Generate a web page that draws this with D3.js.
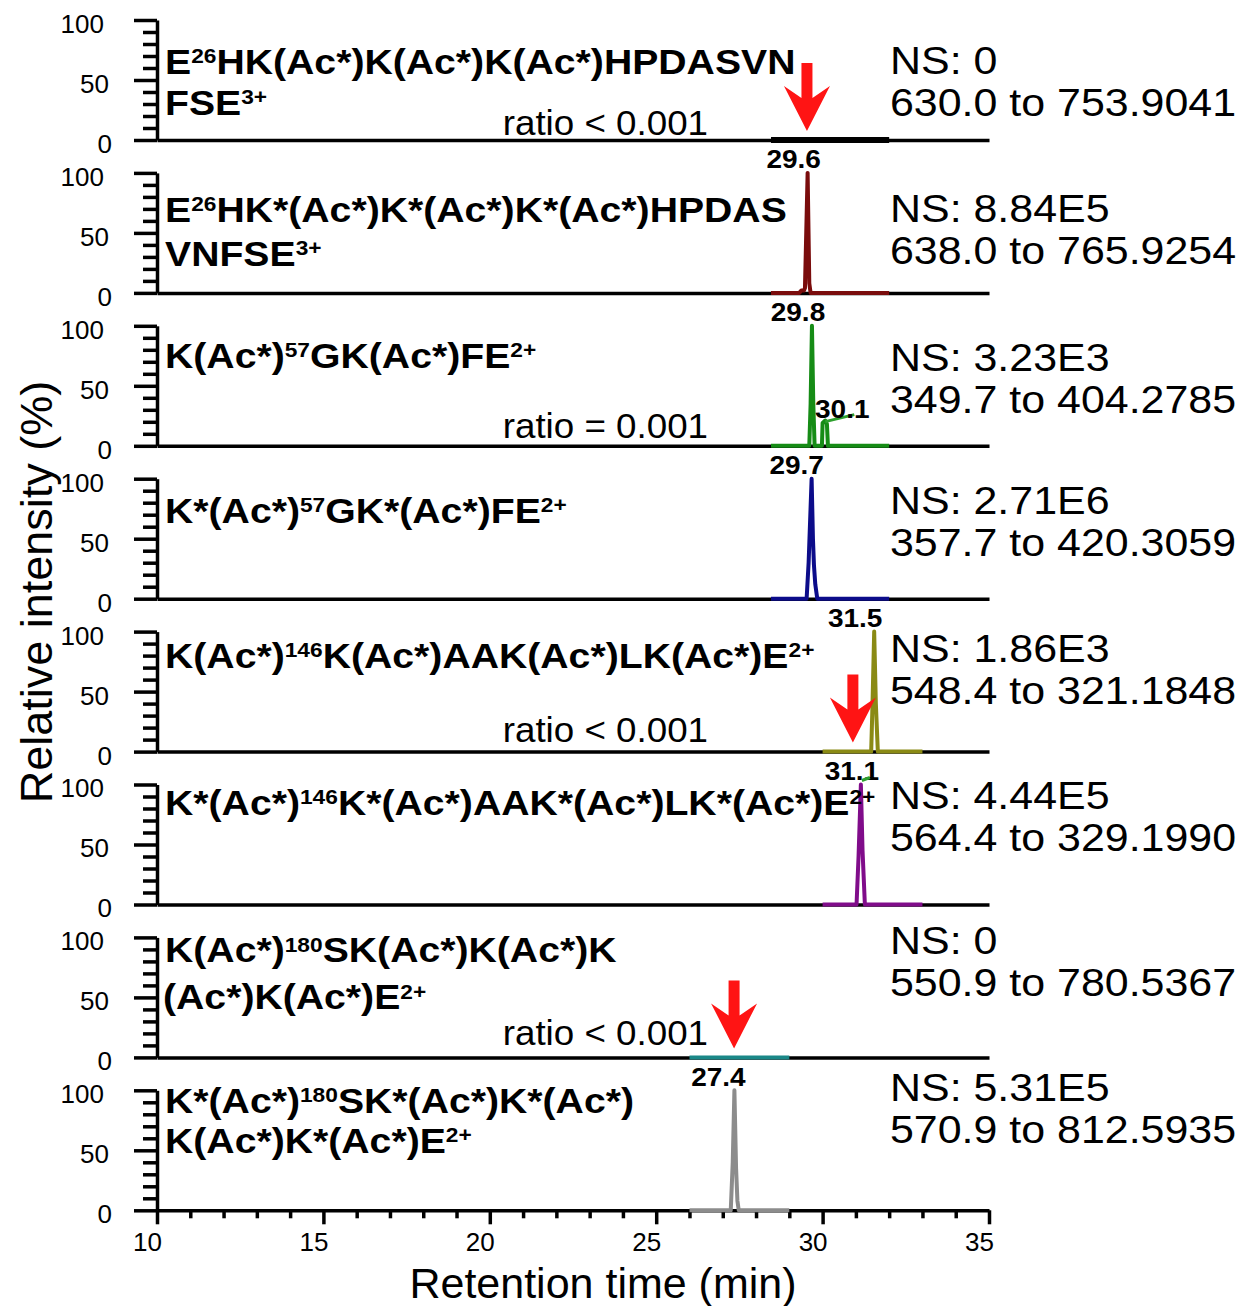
<!DOCTYPE html>
<html><head><meta charset="utf-8">
<script src="https://cdn.jsdelivr.net/npm/d3@7"></script>
<style>
body{margin:0;background:#fff}
svg{display:block;background:#fff}
text{font-family:"Liberation Sans",Arial,Helvetica,sans-serif}
</style>
</head><body>
<svg id="c" width="1244" height="1306"></svg>
<script>
// ---------------- DATA ----------------
const peptideLine1 = [
  "E^{26}HK(Ac*)K(Ac*)K(Ac*)HPDASVN",
  "E^{26}HK*(Ac*)K*(Ac*)K*(Ac*)HPDAS",
  "K(Ac*)^{57}GK(Ac*)FE^{2+}",
  "K*(Ac*)^{57}GK*(Ac*)FE^{2+}",
  "K(Ac*)^{146}K(Ac*)AAK(Ac*)LK(Ac*)E^{2+}",
  "K*(Ac*)^{146}K*(Ac*)AAK*(Ac*)LK*(Ac*)E^{2+}",
  "K(Ac*)^{180}SK(Ac*)K(Ac*)K",
  "K*(Ac*)^{180}SK*(Ac*)K*(Ac*)"
];
const peptideLine2 = ["FSE^{3+}", "VNFSE^{3+}", "", "", "", "", "(Ac*)K(Ac*)E^{2+}", "K(Ac*)K*(Ac*)E^{2+}"];
const nsValues = ["0", "8.84E5", "3.23E3", "2.71E6", "1.86E3", "4.44E5", "0", "5.31E5"];
const mzRanges = [
  "630.0 to 753.9041", "638.0 to 765.9254", "349.7 to 404.2785", "357.7 to 420.3059",
  "548.4 to 321.1848", "564.4 to 329.1990", "550.9 to 780.5367", "570.9 to 812.5935"
];
const ratioTexts = ["ratio < 0.001", "", "ratio = 0.001", "", "ratio < 0.001", "", "ratio < 0.001", ""];
const traceColors = ["#000000", "#7a0c0c", "#168c16", "#0c0c8a", "#8a8a14", "#800c8a", "#1a8888", "#8c8c8c"];
const traceTimes = [
  [28.45, 32.0],
  [28.45, 29.30, 29.36, 29.44, 29.47, 29.55, 29.60, 29.64, 32.0],
  [28.45, 29.60, 29.64, 29.68, 29.72, 29.76, 29.98, 30.00, 30.08, 30.13, 30.16, 32.0],
  [28.45, 29.52, 29.58, 29.67, 29.71, 29.74, 29.78, 29.84, 32.0],
  [30.0, 31.46, 31.50, 31.55, 31.60, 31.66, 33.0],
  [30.0, 31.02, 31.08, 31.15, 31.20, 31.27, 33.0],
  [26.0, 29.0],
  [26.0, 27.24, 27.30, 27.35, 27.40, 27.44, 27.48, 29.0]
];
const traceIntensities = [
  [0, 0],
  [0, 0, 2, 2, 4, 100, 8, 0, 0],
  [0, 0, 35, 100, 35, 0, 0, 19, 21, 18, 0, 0],
  [0, 0, 30, 100, 50, 28, 12, 0, 0],
  [0, 0, 40, 100, 40, 0, 0],
  [0, 0, 40, 100, 45, 0, 0],
  [0, 0],
  [0, 0, 40, 100, 35, 8, 0, 0]
];
const peakLabels = ["", "29.6", "29.8", "29.7", "31.5", "31.1", "", "27.4"];
const peakApexTimes = [null, 29.55, 29.68, 29.67, 31.55, 31.15, null, 27.35];
const minorPeakLabel = "30.1";
const minorPeakTime = 30.08;
const minorPeakIntensity = 21;
const arrowTimes = [29.53, null, null, null, 30.91, null, 27.34, null];
const xTickValues = [10, 15, 20, 25, 30, 35];
const xMinorTickValues = d3.range(11, 35).filter(d => d % 5 !== 0);
const yTickValues = [0, 50, 100];
const yMinorTickValues = [10, 20, 30, 40, 60, 70, 80, 90];
const xTitle = "Retention time (min)";
const yTitle = "Relative intensity (%)";

// ---------------- LAYOUT (pixels / styles) ----------------
const panelTop0 = 20, panelStep = 152.9, panelH = 120;
const pepBase1 = [54, 49, 42, 44, 36, 30, 25, 23];
const pepBase2 = [95, 93, 0, 0, 0, 0, 72, 63];
const nsBase = [54, 49, 45, 35, 30, 24, 17, 11];
const ratioBase = [-5, 0, -8, 0, -9.5, 0, -12, 0];
const peakLabelDx = [0, -14, -14, -15, -19, -9, 0, -16];
const stretch = {pep: 1.12, ns: 1.13, ratio: 1.05, peak: 1.12};
const fs = {pep: 35, ns: 38, ratio: 35, peak: 25, tick: 26, title: 43};
const axisW = 3.5;

const svg = d3.select("#c");
const x = d3.scaleLinear().domain([10, 35]).range([157, 989]);

function richText(sel, str, size) {
  const parts = [];
  const re = /\^\{([^}]*)\}/g;
  let last = 0, m;
  while ((m = re.exec(str)) !== null) {
    if (m.index > last) parts.push({t: str.slice(last, m.index), sup: false});
    parts.push({t: m[1], sup: true});
    last = re.lastIndex;
  }
  if (last < str.length) parts.push({t: str.slice(last), sup: false});
  let raised = false;
  parts.forEach(p => {
    const ts = sel.append("tspan").text(p.t);
    if (p.sup) {
      ts.attr("font-size", size * 0.58).attr("dy", -size * 0.31);
      raised = true;
    } else if (raised) {
      ts.attr("dy", size * 0.31);
      raised = false;
    }
  });
}

function stretchedText(parent, px, py, sx, anchor, size, weight, str) {
  const g = parent.append("g").attr("transform", `translate(${px},${py}) scale(${sx},1)`);
  const t = g.append("text").attr("x", 0).attr("y", 0)
    .attr("text-anchor", anchor).attr("font-size", size)
    .attr("font-weight", weight).attr("fill", "#000");
  richText(t, str, size);
  return t;
}

function arrowPath(cx, tipY) {
  const p = d3.path();
  p.moveTo(cx, tipY);
  p.lineTo(cx + 23, tipY - 45);
  p.lineTo(cx + 5.5, tipY - 33);
  p.lineTo(cx + 5.5, tipY - 68);
  p.lineTo(cx - 5.5, tipY - 68);
  p.lineTo(cx - 5.5, tipY - 33);
  p.lineTo(cx - 23, tipY - 45);
  p.closePath();
  return p.toString();
}

for (let i = 0; i < 8; i++) {
  const top = panelTop0 + i * panelStep;
  const y = d3.scaleLinear().domain([0, 100]).range([top + panelH, top]);
  const g = svg.append("g");

  const xa = g.append("g").attr("transform", `translate(0,${y(0)})`);
  if (i === 7) {
    xa.call(d3.axisBottom(x).tickValues(xTickValues).tickSize(14).tickSizeOuter(0).tickPadding(8));
    const xm = g.append("g").attr("transform", `translate(0,${y(0)})`)
      .call(d3.axisBottom(x).tickValues(xMinorTickValues).tickSize(8).tickFormat(""));
    xm.select(".domain").remove();
    xm.selectAll("line").attr("stroke-width", axisW);
    xa.selectAll("text").attr("font-size", fs.tick).attr("dx", -10)
      .attr("font-family", '"Liberation Sans",Arial,sans-serif').attr("fill", "#000");
  } else {
    xa.call(d3.axisBottom(x).tickValues([]).tickSizeOuter(0));
  }
  xa.select(".domain").attr("stroke-width", axisW);
  xa.selectAll("line").attr("stroke-width", axisW);

  const ya = g.append("g").attr("transform", `translate(${x(10)},0)`)
    .call(d3.axisLeft(y).tickValues(yTickValues).tickSize(23).tickSizeOuter(0).tickPadding(26));
  ya.select(".domain").attr("stroke-width", axisW);
  ya.selectAll("line").attr("stroke-width", axisW);
  ya.selectAll("text").attr("font-size", fs.tick).attr("fill", "#000")
    .attr("font-family", '"Liberation Sans",Arial,sans-serif')
    .attr("dy", "0.48em")
    .attr("dx", d => d === 100 ? -4 : d === 50 ? 1 : 4);
  const ym = g.append("g").attr("transform", `translate(${x(10)},0)`)
    .call(d3.axisLeft(y).tickValues(yMinorTickValues).tickSize(14).tickFormat(""));
  ym.select(".domain").remove();
  ym.selectAll("line").attr("stroke-width", axisW);

  const pts = traceTimes[i].map((t, k) => [t, traceIntensities[i][k]]);
  g.append("path").datum(pts)
    .attr("d", d3.line().x(d => x(d[0])).y(d => y(d[1])))
    .attr("fill", "none").attr("stroke", traceColors[i])
    .attr("stroke-width", i === 0 ? 6 : 4)
    .attr("stroke-linejoin", "round").attr("stroke-linecap", "butt");

  stretchedText(g, 165, top + pepBase1[i], stretch.pep, "start", fs.pep, "bold", peptideLine1[i]);
  if (peptideLine2[i]) {
    stretchedText(g, i === 6 ? 163 : 165, top + pepBase2[i], stretch.pep, "start", fs.pep, "bold", peptideLine2[i]);
  }

  stretchedText(g, 890, top + nsBase[i], stretch.ns, "start", fs.ns, "normal", "NS: " + nsValues[i]);
  stretchedText(g, 890, top + nsBase[i] + 42, stretch.ns, "start", fs.ns, "normal", mzRanges[i]);

  if (ratioTexts[i]) {
    stretchedText(g, 708, y(0) + ratioBase[i], stretch.ratio, "end", fs.ratio, "normal", ratioTexts[i]);
  }

  if (peakLabels[i]) {
    stretchedText(g, x(peakApexTimes[i]) + peakLabelDx[i], y(100) - 4.5, stretch.peak, "middle", fs.peak, "bold", peakLabels[i]);
  }

  if (i === 2) {
    const mx = x(minorPeakTime), my = y(minorPeakIntensity);
    g.append("line").attr("x1", mx).attr("y1", my + 1).attr("x2", mx + 29).attr("y2", my - 6)
      .attr("stroke", "#2ea02e").attr("stroke-width", 3);
    stretchedText(g, mx + 17, my - 3, stretch.peak, "middle", fs.peak, "bold", minorPeakLabel);
  }
  if (i === 5) {
    const ax = x(peakApexTimes[i]);
    g.append("line").attr("x1", ax + 1).attr("y1", y(100) - 4).attr("x2", ax + 9).attr("y2", y(100) - 7)
      .attr("stroke", "#2ea02e").attr("stroke-width", 3);
  }

  if (arrowTimes[i] !== null) {
    g.append("path").attr("d", arrowPath(x(arrowTimes[i]), y(0) - 9)).attr("fill", "#ff1414");
  }
}

svg.append("text").attr("x", 603).attr("y", 1298).attr("text-anchor", "middle")
  .attr("font-size", fs.title).attr("fill", "#000").text(xTitle);
svg.append("text").attr("transform", "translate(52,592) rotate(-90)").attr("text-anchor", "middle")
  .attr("font-size", 45).attr("fill", "#000").text(yTitle);
</script>
</body></html>
